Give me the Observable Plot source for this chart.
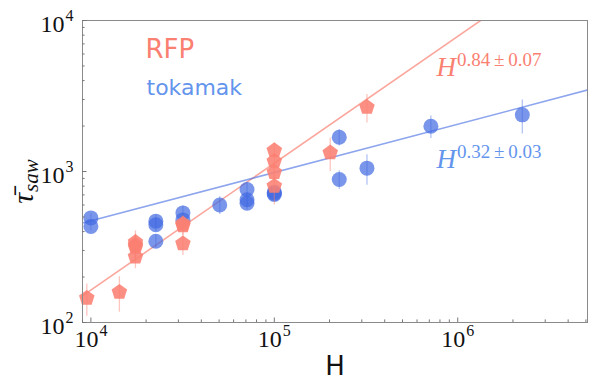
<!DOCTYPE html>
<html><head><meta charset="utf-8">
<script src="https://cdn.jsdelivr.net/npm/d3@7"></script>
<script src="https://cdn.jsdelivr.net/npm/@observablehq/plot@0.6"></script>
<style>body{margin:0;background:#fff}</style>
</head><body><div id="chart"></div>
<script>
// ---- data ----
const rfpH   = [9500, 14300, 17500, 17500, 17500, 17500, 31750, 31750, 31750, 100000, 100000, 100000, 100000, 201800, 320000];
const rfpTau = [145, 159, 340, 325, 315, 272, 450, 438, 333, 1377, 1170, 988, 800, 1331, 2667];
const rfpErr = [35, 42, 65, 60, 60, 45, 60, 60, 55, 160, 150, 150, 200, 330, 570];

const tokH   = [10000, 10000, 22600, 22600, 22600, 31750, 31750, 50400, 71000, 71000, 71000, 100000, 100000, 100000, 226000, 226000, 320000, 714000, 2250000];
const tokTau = [493, 433, 469, 444, 345, 532, 478, 600, 760, 650, 617, 730, 715, 705, 1686, 885, 1052, 1995, 2372];
const tokErr = [30, 30, 45, 45, 35, 60, 50, 80, 90, 70, 60, 60, 60, 60, 210, 125, 240, 340, 600];

// fit: tau = 10^logA * H^p
const rfpFitExp = 0.84, rfpFitLogA = -1.145;
const tokFitExp = 0.32, tokFitLogA = 1.393;

const seriesNames = ["RFP", "tokamak"];
const fitLabels = ["H^0.84\u2009±\u20090.07", "H^0.32\u2009±\u20090.03"];
const xMajor = [1e4, 1e5, 1e6];
const yMajor = [1e2, 1e3, 1e4];
const xDomain = [9000, 5.1e6];
const yDomain = [100, 10000];

// ---- build ----
const rfp = rfpH.map((h, i) => ({H: h, tau: rfpTau[i], err: rfpErr[i]}));
const tok = tokH.map((h, i) => ({H: h, tau: tokTau[i], err: tokErr[i]}));
const fitLine = (logA, p) => xDomain.map(h => ({H: h, tau: Math.pow(10, logA) * Math.pow(h, p)}));
const minorTicks = (dom) => {
  const out = [];
  for (let e = Math.floor(Math.log10(dom[0])); e <= Math.ceil(Math.log10(dom[1])); e++)
    for (let m = 2; m <= 9; m++) { const v = m * Math.pow(10, e); if (v >= dom[0] && v <= dom[1]) out.push(v); }
  return out;
};
const expLabel = v => "10^" + Math.round(Math.log10(v));

const pentagon = {
  draw(ctx, size) {
    const R = Math.sqrt(size / 2.3776);
    for (let k = 0; k < 5; k++) {
      const a = -Math.PI / 2 + k * 2 * Math.PI / 5;
      const x = R * Math.cos(a), y = R * Math.sin(a);
      k ? ctx.lineTo(x, y) : ctx.moveTo(x, y);
    }
    ctx.closePath();
  }
};

const RED = "#fa8072", BLUE = "#4169e1", LBLUE = "#6495ed";
const serif = "'Liberation Serif', 'DejaVu Serif', serif";
const sans = "'DejaVu Sans', sans-serif";

const plot = Plot.plot({
  width: 591, height: 379,
  marginLeft: 82, marginRight: 4, marginTop: 20, marginBottom: 57,
  x: {type: "log", domain: xDomain, axis: null, label: null},
  y: {type: "log", domain: yDomain, axis: null, label: null},
  style: {background: "white", overflow: "visible"},
  marks: [
    Plot.line(fitLine(rfpFitLogA, rfpFitExp), {x: "H", y: "tau", stroke: RED, strokeOpacity: 0.7, strokeWidth: 1.6, clip: true}),
    Plot.line(fitLine(tokFitLogA, tokFitExp), {x: "H", y: "tau", stroke: BLUE, strokeOpacity: 0.6, strokeWidth: 1.6, clip: true}),
    Plot.ruleX(tok, {x: "H", y1: d => d.tau - d.err, y2: d => d.tau + d.err, stroke: BLUE, strokeOpacity: 0.4, strokeWidth: 1.3}),
    Plot.dot(tok, {x: "H", y: "tau", r: 7.5, fill: BLUE, fillOpacity: 0.7}),
    Plot.ruleX(rfp, {x: "H", y1: d => d.tau - d.err, y2: d => d.tau + d.err, stroke: RED, strokeOpacity: 0.45, strokeWidth: 1.3}),
    Plot.dot(rfp, {x: "H", y: "tau", r: 7.1, symbol: pentagon, fill: RED, fillOpacity: 0.88}),
    Plot.frame({stroke: "#8a8a8a", strokeWidth: 1}),
    Plot.axisX(xMajor, {tickSize: -4.5, tickFormat: () => "", stroke: "#777", label: null}),
    Plot.axisX(minorTicks(xDomain), {tickSize: -2.6, tickFormat: () => "", stroke: "#777", label: null}),
    Plot.axisY(yMajor, {tickSize: -4.5, tickFormat: () => "", stroke: "#777", label: null}),
    Plot.axisY(minorTicks(yDomain), {tickSize: -2.6, tickFormat: () => "", stroke: "#777", label: null}),
    Plot.text(xMajor, {x: d => d, frameAnchor: "bottom", dy: 24, text: expLabel, lineAnchor: "bottom", textAnchor: "middle", fontSize: 24, fontFamily: serif, fill: "#111", ariaDescription: "supx"}),
    Plot.text(yMajor, {y: d => d, frameAnchor: "left", dx: -9, dy: 11, text: expLabel, lineAnchor: "bottom", textAnchor: "end", fontSize: 24, fontFamily: serif, fill: "#111", ariaDescription: "supy"}),
    Plot.text(["H"], {frameAnchor: "bottom", dy: 52, text: d => d, lineAnchor: "bottom", fontSize: 26, fontFamily: sans, fill: "#111"}),
    Plot.text(["τ̄^saw"], {frameAnchor: "left", dx: -50, dy: 10, rotate: -90, text: d => d, lineAnchor: "bottom", textAnchor: "middle", fontSize: 30, fontFamily: serif, fontStyle: "italic", fill: "#111", ariaDescription: "ylab"}),
    Plot.text([seriesNames[0]], {frameAnchor: "top-left", dx: 63, dy: 37.3, text: d => d, lineAnchor: "bottom", textAnchor: "start", fontSize: 26, fontFamily: sans, fill: RED}),
    Plot.text([seriesNames[1]], {frameAnchor: "top-left", dx: 64, dy: 74, text: d => d, lineAnchor: "bottom", textAnchor: "start", fontSize: 22, fontFamily: sans, fill: LBLUE}),
    Plot.text([fitLabels[0]], {frameAnchor: "top-left", dx: 354, dy: 55.3, text: d => d, lineAnchor: "bottom", textAnchor: "start", fontSize: 27, fontFamily: serif, fill: RED, ariaDescription: "fitlab"}),
    Plot.text([fitLabels[1]], {frameAnchor: "top-left", dx: 354, dy: 147, text: d => d, lineAnchor: "bottom", textAnchor: "start", fontSize: 27, fontFamily: serif, fill: LBLUE, ariaDescription: "fitlab"})
  ]
});
document.getElementById("chart").appendChild(plot);

// superscripts / subscripts as real tspans
function supify(label, supSize, raise, italicBase, sub) {
  d3.select(plot).selectAll(`g[aria-description="${label}"] text`).each(function() {
    const s = this.textContent; const [b, p] = s.split("^");
    this.textContent = "";
    const t = d3.select(this);
    t.append("tspan").attr("font-style", italicBase ? "italic" : "normal").text(b);
    t.append("tspan").attr("dy", sub ? raise : -raise).attr("dx", 1).attr("font-size", supSize)
      .attr("font-style", sub ? "italic" : "normal").text(p);
  });
}
supify("supx", 16, 10.5, false);
supify("supy", 16, 10.5, false);
supify("fitlab", 19, 9.5, true);
supify("ylab", 21, 5, true, true);
</script>
</body></html>
